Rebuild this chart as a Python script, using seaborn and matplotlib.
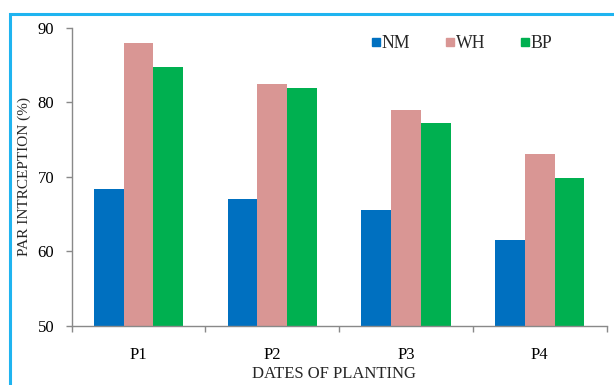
import matplotlib
matplotlib.use("Agg")
import matplotlib.pyplot as plt
from matplotlib.patches import Rectangle
from matplotlib.lines import Line2D
from matplotlib.ticker import FixedLocator, NullFormatter
import seaborn as sns
import pandas as pd

# PAR interception (%) per planting date and treatment
dates = ["P1", "P2", "P3", "P4"]
treatments = ["NM", "WH", "BP"]
nm = [68.4, 67.0, 65.5, 61.5]
wh = [88.0, 82.5, 79.0, 73.1]
bp = [84.7, 81.9, 77.2, 69.8]
colors = ["#0070C0", "#D99694", "#00B050"]

df = pd.DataFrame({
    "date": dates * 3,
    "treatment": [t for t in treatments for _ in dates],
    "value": nm + wh + bp,
})

sns.set_theme(style="white")
plt.rcParams["font.family"] = ["Liberation Serif", "DejaVu Serif"]

W, H = 614, 385
fig = plt.figure(figsize=(W / 100, H / 100), dpi=100)
ax = fig.add_axes([71.7 / W, 1 - 326 / H, 535 / W, 298.3 / H])

sns.barplot(data=df, x="date", y="value", hue="treatment",
            hue_order=treatments, palette=colors, saturation=1,
            width=0.667, gap=0, edgecolor="none", linewidth=0,
            legend=False, ax=ax)

ax.set_ylim(50, 90)
ax.set_xlim(-0.5, 3.5)
ax.set_yticks([50, 60, 70, 80, 90])
ax.tick_params(axis="y", labelsize=12, colors="#898989", length=4.5,
               width=1, direction="out", left=True, labelcolor="black", pad=8)
ax.tick_params(axis="x", which="major", length=0, labelsize=12,
               labelcolor="black", pad=15)
ax.xaxis.set_minor_locator(FixedLocator([-0.5, 0.5, 1.5, 2.5, 3.5]))
ax.xaxis.set_minor_formatter(NullFormatter())
ax.tick_params(axis="x", which="minor", length=4.5, width=1,
               color="#898989", direction="out", bottom=True)

for side in ["top", "right"]:
    ax.spines[side].set_visible(False)
for side in ["left", "bottom"]:
    ax.spines[side].set_color("#898989")
    ax.spines[side].set_linewidth(1)

ax.set_xlabel("DATES OF PLANTING", fontsize=12)
ax.xaxis.set_label_coords((334 - 71.7) / 535, -(366 - 326) / 298.3)
ax.set_ylabel("PAR INTRCEPTION (%)", fontsize=11)
ax.yaxis.set_label_coords((31 - 71.7) / 535, 0.5)

handles = [Line2D([0], [0], marker="s", linestyle="none", markersize=5.6,
                  markerfacecolor=c, markeredgecolor=c) for c in colors]
ax.legend(handles, treatments, loc="upper left",
          bbox_to_anchor=(356 / W, 1 - 19 / H),
          bbox_transform=fig.transFigure,
          ncol=3, frameon=False, fontsize=12.8, handletextpad=0.1,
          columnspacing=2.0, handlelength=0.45, borderpad=0.4)

# frame border around the chart
fig.patches.append(Rectangle((10 / W, -0.2), 1.2, 1.2 - 14 / H,
                             transform=fig.transFigure, fill=False,
                             edgecolor="#1FB4F0", linewidth=2.2))

fig.savefig("out.png", dpi=100)
